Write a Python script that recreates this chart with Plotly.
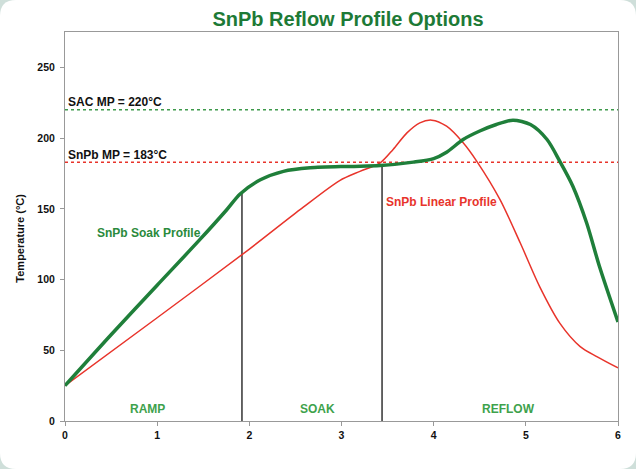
import plotly.graph_objects as go

# ---------------- data ----------------
soak_time = [0, 0.5, 1.0, 1.46, 1.75, 1.9, 2.12, 2.37, 2.66, 3.09, 3.42, 3.78, 4.0, 4.14,
             4.32, 4.5, 4.68, 4.86, 5.05, 5.23, 5.37, 5.51, 5.66, 5.80, 6.0]
soak_temp = [25, 61, 96, 128, 149, 160.5, 170.5, 176.5, 179, 180, 180.6, 183, 185.5, 190,
             199, 205, 209.6, 212.7, 209.6, 199, 183.4, 166, 140, 109, 70]

linear_time = [0, 1.0, 1.99, 2.55, 2.98, 3.2, 3.42, 3.56, 3.71, 3.85, 3.98, 4.14, 4.32,
               4.47, 4.72, 4.94, 5.15, 5.37, 5.59, 5.77, 6.0]
linear_temp = [25, 73, 121, 149.4, 170.0, 176.5, 182.5, 192, 203.7, 210.8, 212.7, 208.4, 196.7,
               183.4, 156.5, 125.8, 95, 69, 52.6, 45.5, 37.5]

sac_mp = 220
snpb_mp = 183

phase_bounds = [1.92, 3.44]
phase_bound_tops = [162, 181]

phase_names = ["RAMP", "SOAK", "REFLOW"]
phase_label_x = [0.9, 2.74, 4.81]
phase_label_y = [8.5, 8.5, 8.5]

x_ticks = [0, 1, 2, 3, 4, 5, 6]
y_ticks = [0, 50, 100, 150, 200, 250]

# ---------------- style ----------------
FONT = "Liberation Sans, Arial, sans-serif"
DARK_GREEN = "#1d7a36"
LINE_GREEN = "#1f7f3a"
LIGHT_GREEN = "#3ea24c"
RED = "#e8342b"

fig = go.Figure()

# reference lines (melting points)
fig.add_trace(go.Scatter(x=[0, 6], y=[sac_mp, sac_mp], mode="lines",
                         line=dict(color="#3f9a4c", width=1.5, dash="dot"),
                         hoverinfo="skip", showlegend=False))
fig.add_trace(go.Scatter(x=[0, 6], y=[snpb_mp, snpb_mp], mode="lines",
                         line=dict(color=RED, width=1.5, dash="dot"),
                         hoverinfo="skip", showlegend=False))

# phase boundary verticals
for xb, yt in zip(phase_bounds, phase_bound_tops):
    fig.add_trace(go.Scatter(x=[xb, xb], y=[0, yt], mode="lines",
                             line=dict(color="#333333", width=1.5),
                             hoverinfo="skip", showlegend=False))

# profiles
fig.add_trace(go.Scatter(x=linear_time, y=linear_temp, mode="lines",
                         line=dict(color=RED, width=1.5, shape="spline", smoothing=0.8),
                         name="SnPb Linear Profile", showlegend=False))
fig.add_trace(go.Scatter(x=soak_time, y=soak_temp, mode="lines",
                         line=dict(color=LINE_GREEN, width=3.5, shape="spline", smoothing=0.8),
                         name="SnPb Soak Profile", showlegend=False))

ann = []
ann.append(dict(x=0.01, y=225.5, xref="x", yref="y", text="SAC MP = 220°C", showarrow=False,
                xanchor="left", yanchor="middle",
                font=dict(family=FONT, size=12, color="#111111", weight="bold")))
ann.append(dict(x=0.01, y=187.7, xref="x", yref="y", text="SnPb MP = 183°C", showarrow=False,
                xanchor="left", yanchor="middle",
                font=dict(family=FONT, size=12, color="#111111", weight="bold")))
ann.append(dict(x=0.91, y=133, xref="x", yref="y", text="SnPb Soak Profile", showarrow=False,
                xanchor="center", yanchor="middle",
                font=dict(family=FONT, size=12, color="#2a8a3c", weight="bold")))
ann.append(dict(x=4.09, y=155, xref="x", yref="y", text="SnPb Linear Profile", showarrow=False,
                xanchor="center", yanchor="middle",
                font=dict(family=FONT, size=12, color=RED, weight="bold")))
for nm, lx, ly in zip(phase_names, phase_label_x, phase_label_y):
    ann.append(dict(x=lx, y=ly, xref="x", yref="y", text=nm, showarrow=False,
                    xanchor="center", yanchor="middle",
                    font=dict(family=FONT, size=12, color=LIGHT_GREEN, weight="bold")))
# axis titles
ann.append(dict(x=2.55, y=-21.2, xref="x", yref="y", text="Time (Min)", showarrow=False,
                xanchor="center", yanchor="middle",
                font=dict(family=FONT, size=11.5, color="#111111", weight="bold")))
ann.append(dict(x=-0.0814, y=129.6, xref="paper", yref="y", text="Temperature (°C)",
                showarrow=False, textangle=-90, xanchor="center", yanchor="middle",
                font=dict(family=FONT, size=11, color="#111111", weight="bold")))

# background panel with rounded corners
x0, x1 = -0.11754, 1.03255
y0, y1 = -0.12339, 1.08226
rx, ry = 16 / 553, 16 / 389
path = (f"M {x0+rx},{y1} L {x1-rx},{y1} Q {x1},{y1} {x1},{y1-ry} "
        f"L {x1},{y0+ry} Q {x1},{y0} {x1-rx},{y0} "
        f"L {x0+rx},{y0} Q {x0},{y0} {x0},{y0+ry} "
        f"L {x0},{y1-ry} Q {x0},{y1} {x0+rx},{y1} Z")

fig.update_layout(
    width=636, height=469,
    margin=dict(l=65, r=18, t=32, b=48),
    paper_bgcolor="#cfdfda",
    plot_bgcolor="white",
    shapes=[dict(type="path", path=path, xref="paper", yref="paper",
                 fillcolor="white", line=dict(width=0), layer="below")],
    title=dict(text="SnPb Reflow Profile Options", x=348 / 636, xanchor="center",
               y=1 - 19 / 469, yanchor="middle",
               font=dict(family=FONT, size=20, color=DARK_GREEN, weight="bold")),
    annotations=ann,
    xaxis=dict(range=[0, 6], tickvals=x_ticks, ticktext=[str(v) for v in x_ticks],
               showgrid=False, zeroline=False, showline=True, linecolor="#999999",
               linewidth=1, mirror=True, ticks="outside", ticklen=4, tickcolor="#999999",
               tickfont=dict(family=FONT, size=10.5, color="#111111", weight="bold")),
    yaxis=dict(range=[0, 275], tickvals=y_ticks, ticktext=[str(v) for v in y_ticks],
               showgrid=False, zeroline=False, showline=True, linecolor="#999999",
               linewidth=1, mirror=True, ticks="outside", ticklen=4, tickcolor="#999999",
               ticklabelstandoff=3,
               tickfont=dict(family=FONT, size=10.5, color="#111111", weight="bold")),
)

fig.write_html("out.html", config={"displayModeBar": False},
               post_script="document.body.style.margin='0';document.body.style.overflow='hidden';")
